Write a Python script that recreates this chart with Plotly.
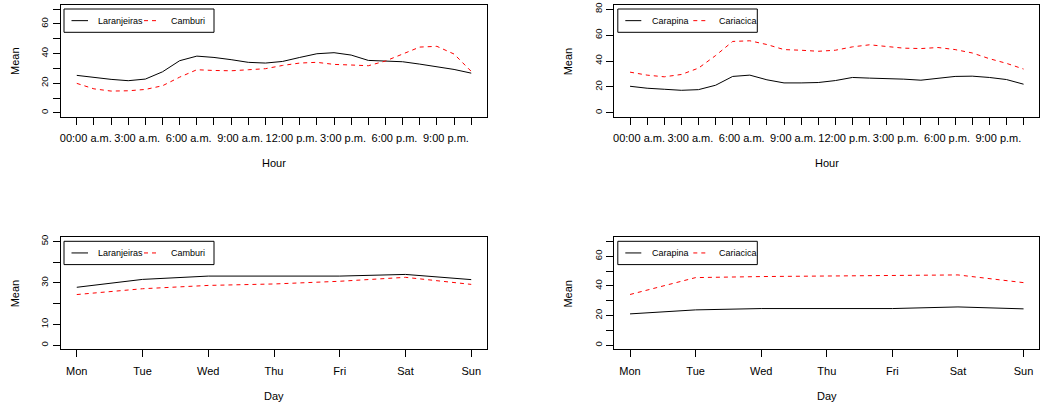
import plotly.graph_objects as go

# ---- data -------------------------------------------------------------
hours = list(range(24))
hour_ticktext = ["00:00 a.m.", "", "", "3:00 a.m.", "", "", "6:00 a.m.", "", "",
                 "9:00 a.m.", "", "", "12:00 p.m.", "", "", "3:00 p.m.", "", "",
                 "6:00 p.m.", "", "", "9:00 p.m.", "", ""]

days = list(range(7))
day_ticktext = ["Mon", "Tue", "Wed", "Thu", "Fri", "Sat", "Sun"]

laranjeiras_hour = [25.3, 23.7, 22.6, 21.7, 22.8, 27.7, 35.2, 38.3, 37.4, 35.9, 34.1, 33.6,
                    34.7, 37.4, 39.9, 40.6, 39.0, 35.4, 35.2, 34.5, 32.9, 31.1, 29.3, 26.8]
camburi_hour = [19.9, 16.2, 14.7, 14.9, 15.8, 18.3, 24.1, 29.1, 28.6, 28.4, 29.1, 29.8,
                32.0, 33.6, 34.1, 32.7, 32.3, 31.8, 35.0, 39.5, 44.4, 44.9, 39.7, 28.0]

carapina_hour = [20.5, 19.0, 18.2, 17.4, 17.9, 21.3, 28.1, 29.1, 25.5, 23.1, 23.1, 23.4,
                 24.9, 27.3, 26.8, 26.5, 26.0, 25.2, 26.8, 28.1, 28.3, 27.3, 25.7, 22.1]
cariacica_hour = [31.4, 29.1, 27.8, 29.6, 34.5, 44.2, 55.1, 55.6, 52.7, 48.8, 48.3, 47.5,
                  48.3, 50.9, 52.5, 51.2, 49.9, 49.6, 50.4, 48.8, 46.2, 41.8, 38.2, 33.8]

laranjeiras_day = [27.9, 31.7, 33.3, 33.3, 33.3, 34.1, 31.6]
camburi_day = [24.4, 27.2, 28.8, 29.5, 30.8, 32.7, 29.3]

carapina_day = [21.1, 23.8, 24.7, 24.7, 24.7, 25.8, 24.5]
cariacica_day = [34.2, 45.6, 46.3, 46.5, 46.7, 47.4, 42.2]

# ---- page geometry (pixels) -------------------------------------------
W, H = 1041, 404
FONT = "Liberation Sans, Arial, Helvetica, sans-serif"

panels = {
    # name: (x0, x1, y0, y1) in page pixels, y measured from the top
    "tl": (61.0, 487.0, 5.0, 117.0),
    "tr": (614.3, 1039.3, 5.0, 117.0),
    "bl": (61.0, 487.0, 237.3, 349.3),
    "br": (614.3, 1039.3, 237.3, 349.3),
}


def px_x(v):
    return v / W


def px_y(v):
    return 1 - v / H


fig = go.Figure()

BLACK = "#000000"
RED = "#FF0000"
DASH = "4px,4px"

specs = [
    # panel, axis suffix, x, x tick text, label shift, series, y limits, y ticks, y labels, x title, legend style
    ("tl", "", hours, hour_ticktext, 9,
     [("Laranjeiras", laranjeiras_hour, BLACK, "solid"), ("Camburi", camburi_hour, RED, DASH)],
     (0, 70), list(range(0, 71, 10)), ["0", "", "20", "", "40", "", "60", ""], "Hour", "left"),
    ("tr", "2", hours, hour_ticktext, 9,
     [("Carapina", carapina_hour, BLACK, "solid"), ("Cariacica", cariacica_hour, RED, DASH)],
     (0, 80), list(range(0, 81, 20)), ["0", "20", "40", "60", "80"], "Hour", "right"),
    ("bl", "3", days, day_ticktext, 0,
     [("Laranjeiras", laranjeiras_day, BLACK, "solid"), ("Camburi", camburi_day, RED, DASH)],
     (0, 50), list(range(0, 51, 10)), ["0", "10", "", "30", "", "50"], "Day", "left"),
    ("br", "4", days, day_ticktext, 0,
     [("Carapina", carapina_day, BLACK, "solid"), ("Cariacica", cariacica_day, RED, DASH)],
     (0, 70), list(range(0, 71, 10)), ["0", "", "20", "", "40", "", "60", ""], "Day", "right"),
]

# legend layout relative to the panel's top-left corner (pixels)
legend_styles = {
    "left": dict(box=(3.0, 4.0, 153.0, 27.3), line1=(10.5, 27.0), text1=35.5,
                 line2=(83.0, 98.0), text2=107.5),
    "right": dict(box=(3.5, 4.0, 143.0, 27.3), line1=(11.0, 27.0), text1=35.5,
                  line2=(79.0, 93.0), text2=103.0),
}

axis_common = dict(
    showgrid=False, zeroline=False, showline=True, mirror=True,
    linecolor=BLACK, linewidth=1, ticks="outside", ticklen=7, tickwidth=1,
    tickcolor=BLACK, automargin=False,
)

shapes = []
annotations = []

for name, sfx, xs, xtt, lshift, series, ylim, ytv, ytt, xtitle, lstyle in specs:
    x0, x1, y0, y1 = panels[name]
    xa = "x" + sfx
    ya = "y" + sfx
    for sname, vals, col, dash in series:
        fig.add_trace(go.Scatter(
            x=xs, y=vals, mode="lines", name=sname, showlegend=False,
            line=dict(color=col, width=1, dash=dash),
            xaxis=xa, yaxis=ya,
        ))

    n = len(xs) - 1
    xpad = 0.04 * n
    ypad = 0.04 * (ylim[1] - ylim[0])
    fig.update_layout(**{
        "xaxis" + sfx: dict(
            axis_common, domain=[px_x(x0), px_x(x1)], anchor=ya,
            range=[-xpad, n + xpad], tickmode="array", tickvals=xs, ticktext=xtt,
            ticklabelstandoff=4, ticklabelshift=lshift,
            tickfont=dict(family=FONT, size=11, color=BLACK),
        ),
        "yaxis" + sfx: dict(
            axis_common, domain=[px_y(y1), px_y(y0)], anchor=xa,
            range=[ylim[0] - ypad, ylim[1] + ypad], tickmode="array",
            tickvals=ytv, ticktext=ytt, tickangle=-90, ticklabelstandoff=1,
            tickfont=dict(family=FONT, size=9.5, color=BLACK),
        ),
    })

    # axis titles
    annotations.append(dict(
        text=xtitle, xref="paper", yref="paper", showarrow=False,
        x=px_x((x0 + x1) / 2), y=px_y(y1 + 46.3), xanchor="center", yanchor="middle",
        font=dict(family=FONT, size=11, color=BLACK),
    ))
    annotations.append(dict(
        text="Mean", xref="paper", yref="paper", showarrow=False, textangle=-90,
        x=px_x(x0 - 46.0), y=px_y((y0 + y1) / 2), xanchor="center", yanchor="middle",
        font=dict(family=FONT, size=11, color=BLACK),
    ))

    # legend box with two keys
    st = legend_styles[lstyle]
    bx0, by0, bx1, by1 = st["box"]
    shapes.append(dict(
        type="rect", xref="paper", yref="paper",
        x0=px_x(x0 + bx0), x1=px_x(x0 + bx1), y0=px_y(y0 + by1), y1=px_y(y0 + by0),
        line=dict(color=BLACK, width=1), fillcolor="rgba(0,0,0,0)",
    ))
    ymid = px_y(y0 + (by0 + by1) / 2)
    for (sname, vals, col, dash), lkey, tkey in zip(series, ("line1", "line2"), ("text1", "text2")):
        lx0, lx1 = st[lkey]
        shapes.append(dict(
            type="line", xref="paper", yref="paper",
            x0=px_x(x0 + lx0), x1=px_x(x0 + lx1), y0=ymid, y1=ymid,
            line=dict(color=col, width=1, dash=dash),
        ))
        annotations.append(dict(
            text=sname, xref="paper", yref="paper", showarrow=False,
            x=px_x(x0 + st[tkey]), y=ymid, xanchor="left", yanchor="middle",
            font=dict(family=FONT, size=9, color=BLACK),
        ))

fig.update_layout(
    width=W, height=H, margin=dict(l=0, r=0, t=0, b=0),
    paper_bgcolor="white", plot_bgcolor="white",
    showlegend=False, shapes=shapes, annotations=annotations,
    font=dict(family=FONT, size=11, color=BLACK),
)

fig.write_html("out.html", config={"displayModeBar": False})
